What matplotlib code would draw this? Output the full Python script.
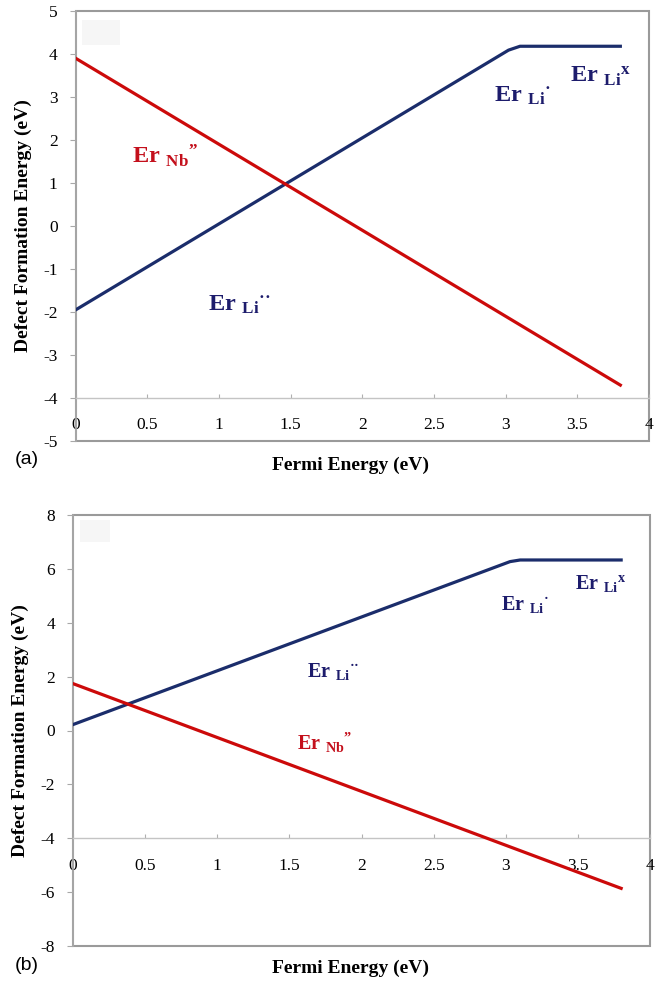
import matplotlib
matplotlib.use('Agg')
import matplotlib.pyplot as plt
from matplotlib.patches import Rectangle

plt.rcParams['font.family'] = ['Liberation Serif', 'DejaVu Serif']
plt.rcParams['mathtext.fontset'] = 'custom'
plt.rcParams['mathtext.rm'] = 'Liberation Serif:bold'
plt.rcParams['mathtext.it'] = 'Liberation Serif:bold'
plt.rcParams['mathtext.bf'] = 'Liberation Serif:bold'

#------- dados -------#

# painel (a)
fermi_li_a = [0, 3.02, 3.1, 3.8]
energia_li_a = [-1.95, 4.09, 4.18, 4.18]
fermi_nb_a = [0, 3.8]
energia_nb_a = [3.9, -3.7]

# painel (b)
fermi_li_b = [0, 3.03, 3.1, 3.8]
energia_li_b = [0.22, 6.27, 6.33, 6.33]
fermi_nb_b = [0, 3.8]
energia_nb_b = [1.74, -5.86]

xticks = [0, 0.5, 1, 1.5, 2, 2.5, 3, 3.5, 4]
xtick_labels = ['0', '0.5', '1', '1.5', '2', '2.5', '3', '3.5', '4']
yticks_a = [-5, -4, -3, -2, -1, 0, 1, 2, 3, 4, 5]
yticks_b = [-8, -6, -4, -2, 0, 2, 4, 6, 8]

# rótulos (texto, x, y, cor)
rotulos_a = [
    (r'$\mathrm{Er}\ {}_{\mathrm{Nb}}{}^{\mathrm{”}}$', 0.39, 1.46, 'red'),
    (r'$\mathrm{Er}\ {}_{\mathrm{Li}}{}^{\mathrm{··}}$', 0.92, -1.98, 'navy'),
    (r'$\mathrm{Er}\ {}_{\mathrm{Li}}{}^{\mathrm{·}}$', 2.92, 2.88, 'navy'),
    (r'$\mathrm{Er}\ {}_{\mathrm{Li}}{}^{\mathrm{x}}$', 3.45, 3.35, 'navy'),
]
rotulos_b = [
    (r'$\mathrm{Er}\ {}_{\mathrm{Nb}}{}^{\mathrm{”}}$', 1.55, -0.7, 'red'),
    (r'$\mathrm{Er}\ {}_{\mathrm{Li}}{}^{\mathrm{··}}$', 1.62, 2.0, 'navy'),
    (r'$\mathrm{Er}\ {}_{\mathrm{Li}}{}^{\mathrm{·}}$', 2.97, 4.48, 'navy'),
    (r'$\mathrm{Er}\ {}_{\mathrm{Li}}{}^{\mathrm{x}}$', 3.48, 5.26, 'navy'),
]

cor_linha_li = '#1b2d6b'
cor_linha_nb = '#cc0a0a'
cor_texto = {'navy': '#1d1c6c', 'red': '#c4101c'}


def desenhar_painel(ax, fermi_li, energia_li, fermi_nb, energia_nb, yticks, rotulos, tam_rotulo, caixa):
    ymin, ymax = yticks[0], yticks[-1]

    ax.plot(fermi_li, energia_li, color=cor_linha_li, lw=2.3, solid_joinstyle='round', zorder=3)
    ax.plot(fermi_nb, energia_nb, color=cor_linha_nb, lw=2.3, zorder=3)

    ax.set_xlim(0, 4)
    ax.set_ylim(ymin, ymax)

    # eixo x cruza em y = -4 (estilo Excel)
    for lado in ['top', 'right']:
        ax.spines[lado].set_visible(False)
    ax.spines['bottom'].set_position(('data', -4))
    ax.spines['bottom'].set_color('#c4c4c4')
    ax.spines['bottom'].set_linewidth(1.0)
    ax.spines['left'].set_color('#a8a8a8')
    ax.spines['left'].set_linewidth(1.2)

    # moldura da área do gráfico
    ax.add_patch(Rectangle((0, 0), 1, 1, transform=ax.transAxes, fill=False,
                           edgecolor='#9a9a9a', lw=1.5, clip_on=False, zorder=1))
    # retângulo claro (resto de legenda)
    ax.add_patch(Rectangle((caixa[0], caixa[1]), caixa[2], caixa[3], transform=ax.transAxes,
                           facecolor='#f6f6f6', edgecolor='none', zorder=0))

    ax.set_xticks(xticks)
    ax.set_xticklabels(xtick_labels)
    ax.set_yticks(yticks)
    ax.set_yticklabels([str(v) for v in yticks])
    ax.tick_params(axis='x', direction='in', length=3, color='#b0b0b0', pad=14, labelsize=12.5)
    ax.tick_params(axis='y', direction='out', length=4, color='#a8a8a8', pad=9, labelsize=12.5)

    ax.set_ylabel('Defect Formation Energy (eV)', fontsize=14, fontweight='bold')
    ax.yaxis.set_label_coords(-0.076, 0.5)

    for texto, x, y, cor in rotulos:
        ax.text(x, y, texto, color=cor_texto[cor], fontsize=tam_rotulo, ha='left', va='baseline', zorder=4)


fig = plt.figure(figsize=(6.58, 9.84), dpi=100)

ax_a = fig.add_axes([75.7 / 658, 1 - 441 / 984, 573.3 / 658, 430 / 984])
desenhar_painel(ax_a, fermi_li_a, energia_li_a, fermi_nb_a, energia_nb_a, yticks_a, rotulos_a, 17.5,
                (0.011, 0.921, 0.066, 0.058))

ax_b = fig.add_axes([73 / 658, 1 - 946 / 984, 577 / 658, 431 / 984])
desenhar_painel(ax_b, fermi_li_b, energia_li_b, fermi_nb_b, energia_nb_b, yticks_b, rotulos_b, 14.5,
                (0.012, 0.937, 0.052, 0.051))

# títulos dos eixos x e letras dos painéis
fig.text(351 / 658, 1 - 465 / 984, 'Fermi Energy (eV)', fontsize=14, fontweight='bold', ha='center', va='center')
fig.text(351 / 658, 1 - 968 / 984, 'Fermi Energy (eV)', fontsize=14, fontweight='bold', ha='center', va='center')
fig.text(15 / 658, 1 - 459 / 984, '(a)', fontsize=14, family='Liberation Sans', ha='left', va='center')
fig.text(15 / 658, 1 - 966 / 984, '(b)', fontsize=14, family='Liberation Sans', ha='left', va='center')

fig.savefig('out.png', dpi=100)
